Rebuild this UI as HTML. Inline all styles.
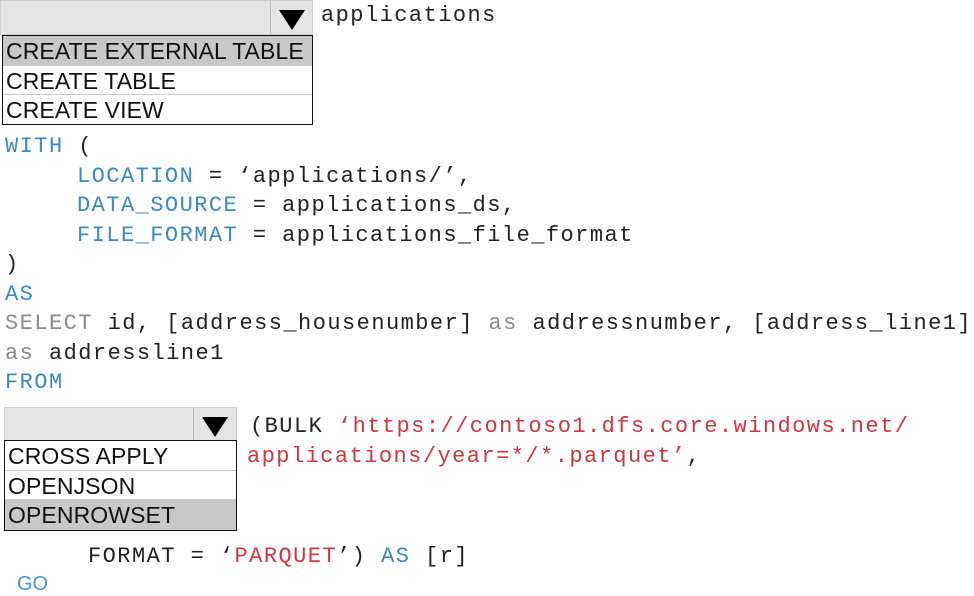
<!DOCTYPE html>
<html><head><meta charset="utf-8"><style>
body{margin:0;width:974px;height:592px;background:#fff;position:relative;overflow:hidden}
.c{position:absolute;font-family:"Liberation Mono",monospace;font-size:22px;letter-spacing:1.45px;line-height:30px;color:#222;white-space:pre}
.k{color:#3a8bbd}.g{color:#8a8a8a}.s{color:#d0363f}
.hdr{position:absolute;background:#e4e4e4;border:1px solid #d0d0d0;box-sizing:border-box}
.arr{position:absolute;top:0;bottom:0;border-left:1px solid #bdbdbd}
.tri{position:absolute;width:0;height:0;border-left:13px solid transparent;border-right:13px solid transparent;border-top:20px solid #000}
.list{position:absolute;border:1.5px solid #111;box-sizing:border-box;background:#fff}
.it{height:29.5px;line-height:31px;font-family:"Liberation Sans",sans-serif;font-size:23px;color:#111;padding-left:3px;border-bottom:1px solid #ccc;box-sizing:border-box;letter-spacing:0.1px;white-space:nowrap}
.it:last-child{border-bottom:none}
.sel{background:#c8c8c8}
</style></head><body>
<div class="hdr" style="left:0;top:0;width:313px;height:35px"><div class="arr" style="left:269px;width:43px"><div class="tri" style="left:8px;top:9px"></div></div></div>
<div class="list" style="left:2px;top:35px;width:311px;height:90px">
<div class="it sel">CREATE EXTERNAL TABLE</div><div class="it">CREATE TABLE</div><div class="it">CREATE VIEW</div></div>
<div class="c" style="left:321px;top:1px">applications</div>
<div class="c" style="left:5px;top:132px"><span class="k">WITH</span> (</div>
<div class="c" style="left:77px;top:162px"><span class="k">LOCATION</span> = ‘applications/’,</div>
<div class="c" style="left:77px;top:191px"><span class="k">DATA_SOURCE</span> = applications_ds,</div>
<div class="c" style="left:77px;top:221px"><span class="k">FILE_FORMAT</span> = applications_file_format</div>
<div class="c" style="left:5px;top:250px">)</div>
<div class="c" style="left:5px;top:280px"><span class="k">AS</span></div>
<div class="c" style="left:5px;top:309px"><span class="g">SELECT</span> id, [address_housenumber] <span class="g">as</span> addressnumber, [address_line1]</div>
<div class="c" style="left:5px;top:339px"><span class="g">as</span> addressline1</div>
<div class="c" style="left:5px;top:368px"><span class="k">FROM</span></div>
<div class="hdr" style="left:4px;top:407px;width:233px;height:34px"><div class="arr" style="left:188px;width:44px"><div class="tri" style="left:8px;top:9px"></div></div></div>
<div class="list" style="left:4px;top:440px;width:233px;height:91px">
<div class="it">CROSS APPLY</div><div class="it">OPENJSON</div><div class="it sel">OPENROWSET</div></div>
<div class="c" style="left:250px;top:412px">(BULK <span class="s">‘https://contoso1.dfs.core.windows.net/</span></div>
<div class="c" style="left:247px;top:442px"><span class="s">applications/year=*/*.parquet’</span>,</div>
<div class="c" style="left:88px;top:542px">FORMAT = ‘<span class="s">PARQUET</span>’) <span class="k">AS</span> [r]</div>
<div style="position:absolute;left:17px;top:573px;font-family:'Liberation Sans',sans-serif;font-size:20px;color:#4a9ac8">GO</div>
</body></html>
